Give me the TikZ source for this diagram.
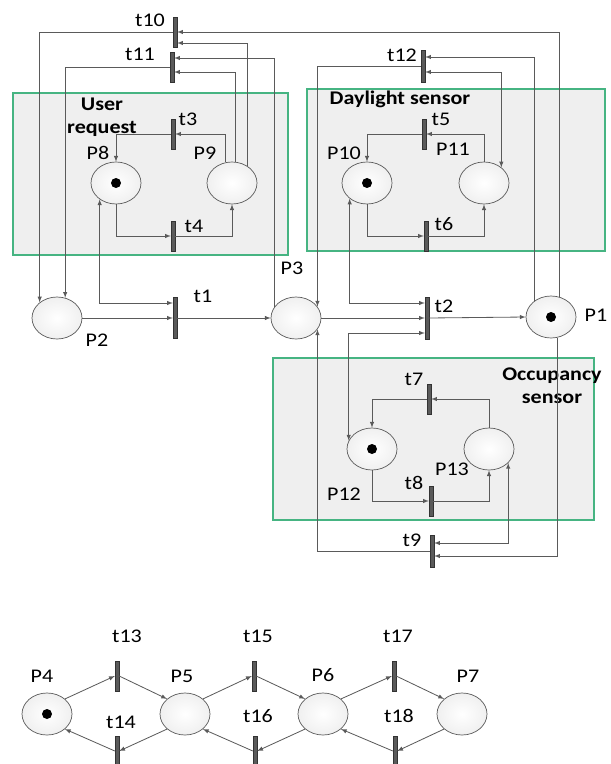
\documentclass[tikz,border=0pt]{standalone}
\usepackage{fontspec}
\newfontfamily\labelfont[FakeStretch=1.14]{Carlito}
\usetikzlibrary{arrows, calc, shapes.geometric}
\definecolor{boxgreen}{RGB}{70,180,130}
\definecolor{boxfill}{RGB}{239,239,239}
\definecolor{linegray}{RGB}{90,90,90}

\tikzset{
  place/.style={ellipse, draw=linegray, line width=0.6pt, shade, shading=radial, inner color=white, outer color=gray!12, minimum width=1.5cm, minimum height=1.26cm, inner sep=0pt},
  marked/.style={path picture={\fill[black] (path picture bounding box.center) circle[radius=0.15cm];}},
  trans/.style={rectangle, fill=linegray, draw=gray!40!black, line width=0.3pt, minimum width=0.12cm, minimum height=#1, inner sep=0pt},
  trans/.default=0.9cm,
  flow/.style={draw=linegray, line width=0.7pt, -latex},
  biflow/.style={flow, latex-latex},
  lbl/.style={font=\labelfont\fontsize{16.5}{19}\selectfont, inner sep=0pt},
  boxlbl/.style={font=\labelfont\bfseries\fontsize{16.5}{19.5}\selectfont, inner sep=0pt, align=center},
  sensorbox/.style={draw=boxgreen, line width=1pt},
}

\begin{document}
\begin{tikzpicture}[x=0.03cm, y=-0.03cm]
\useasboundingbox (0,0) rectangle (610,764);
\clip (0,0) rectangle (610,764);

%sensor boxes
\fill[boxfill] (13,93) rectangle (288,255);
\fill[boxfill] (307,89) rectangle (605,251);
\fill[boxfill] (273,358) rectangle (594,520);
\draw[sensorbox] (13,93) rectangle (288,255);
\draw[sensorbox] (307,89) rectangle (605,251);
\draw[sensorbox] (273,358) rectangle (594,520);
\node[boxlbl] (lUser) at (102,117) {User\\request};
\node[boxlbl] (lDay) at (400,99) {Daylight sensor};
\node[boxlbl] (lOcc) at (552,386) {Occupancy\\sensor};

%places
\node[place,marked] (P1) at (551,317) {};
\node[place] (P2) at (57,318) {};
\node[place] (P3) at (296,318) {};
\node[place,marked] (P8) at (116,183) {};
\node[place] (P9) at (232,183) {};
\node[place,marked] (P10) at (367,183) {};
\node[place] (P11) at (484,183) {};
\node[place,marked] (P12) at (372,449) {};
\node[place] (P13) at (489,449) {};
\node[place,marked] (P4) at (47,714) {};
\node[place] (P5) at (185,714) {};
\node[place] (P6) at (323,714) {};
\node[place] (P7) at (462,714) {};

%transitions
\node[trans] (t10) at (175,32) {};
\node[trans] (t11) at (172,67) {};
\node[trans=0.95cm] (t12) at (423,66) {};
\node[trans] (t3) at (173,134) {};
\node[trans] (t4) at (173,236) {};
\node[trans] (t5) at (424,134) {};
\node[trans] (t6) at (426,236) {};
\node[trans=1.23cm] (t1) at (175,318) {};
\node[trans=1.26cm] (t2) at (427,318) {};
\node[trans] (t7) at (429,399) {};
\node[trans] (t8) at (431,501) {};
\node[trans=0.96cm] (t9) at (432,551) {};
\node[trans] (t13) at (117,676) {};
\node[trans] (t14) at (117,751) {};
\node[trans] (t15) at (254,676) {};
\node[trans] (t16) at (255,751) {};
\node[trans] (t17) at (394,676) {};
\node[trans] (t18) at (395,751) {};

%labels
\node[lbl] (lt10) at (150,20) {t10};
\node[lbl] (lt11) at (140,54) {t11};
\node[lbl] (lt12) at (402,55) {t12};
\node[lbl] (lt3) at (188,119) {t3};
\node[lbl] (lt4) at (194,226) {t4};
\node[lbl] (lt5) at (441,119) {t5};
\node[lbl] (lt6) at (444,224) {t6};
\node[lbl] (lP8) at (98,153) {P8};
\node[lbl] (lP9) at (205,153) {P9};
\node[lbl] (lP10) at (344,153) {P10};
\node[lbl] (lP11) at (453,149) {P11};
\node[lbl] (lP2) at (97,340) {P2};
\node[lbl] (lt1) at (203,296) {t1};
\node[lbl] (lP3) at (292,268) {P3};
\node[lbl] (lt2) at (444,306) {t2};
\node[lbl] (lP1) at (596,315) {P1};
\node[lbl] (lt7) at (414,379) {t7};
\node[lbl] (lP12) at (344,494) {P12};
\node[lbl] (lP13) at (452,469) {P13};
\node[lbl] (lt8) at (414,483) {t8};
\node[lbl] (lt9) at (412,540) {t9};
\node[lbl] (lP4) at (42,676) {P4};
\node[lbl] (lP5) at (182,676) {P5};
\node[lbl] (lP6) at (323,675) {P6};
\node[lbl] (lP7) at (468,676) {P7};
\node[lbl] (lt13) at (127,636) {t13};
\node[lbl] (lt15) at (258,636) {t15};
\node[lbl] (lt17) at (398,636) {t17};
\node[lbl] (lt14) at (121,722) {t14};
\node[lbl] (lt16) at (258,716) {t16};
\node[lbl] (lt18) at (399,716) {t18};

%outer loops
\draw[flow] (P1.68) |- (t10.east);
\draw[flow] (P9.48) |- ($(t10.east)+(0,11)$);
\draw[flow] (t10.west) -| (P2.138);
\draw[flow] (P3.152) |- ($(t11.east)+(0,-9)$);
\draw[flow] (P9.82) |- ($(t11.east)+(0,5)$);
\draw[flow] (t11.west) -| (P2.68);
\draw[flow] (P1.135) |- ($(t12.east)+(0,-9)$);
\draw[biflow] (P11.42) |- ($(t12.east)+(0,6)$);
\draw[flow] (t12.west) -| (P3.28);
\draw[flow] (P1.287) |- ($(t9.east)+(0,5)$);
\draw[biflow] (P13.324) |- ($(t9.east)+(0,-8)$);
\draw[flow] (t9.west) -| (P3.332);

%user request
\draw[flow] (P9.109) |- (t3.east);
\draw[flow] (t3.west) -| (P8.north);
\draw[flow] (P8.south) |- (t4.west);
\draw[flow] (t4.east) -| (P9.south);

%daylight sensor
\draw[flow] (P11.north) |- (t5.east);
\draw[flow] (t5.west) -| (P10.north);
\draw[flow] (P10.south) |- (t6.west);
\draw[flow] (t6.east) -| (P11.south);

%occupancy sensor
\draw[flow] (P13.north) |- (t7.east);
\draw[flow] (t7.west) -| (P12.north);
\draw[flow] (P12.south) |- (t8.west);
\draw[flow] (t8.east) -| (P13.south);

%main line
\draw[flow] (P2.east) -- (t1.west);
\draw[biflow] (P8.225) |- ($(t1.west)+(0,-15)$);
\draw[flow] (t1.east) -- (P3.west);
\draw[flow] (P3.east) -- (t2.west);
\draw[biflow] (P10.222) |- ($(t2.west)+(0,-15)$);
\draw[biflow] (P12.160) |- ($(t2.west)+(0,15)$);
\draw[flow] (t2.east) -- (P1.west);

%lower chain
\draw[flow] (P4.40) -- (t13.west);
\draw[flow] (t13.east) -- (P5.140);
\draw[flow] (P5.40) -- (t15.west);
\draw[flow] (t15.east) -- (P6.140);
\draw[flow] (P6.40) -- (t17.west);
\draw[flow] (t17.east) -- (P7.140);
\draw[flow] (P5.220) -- (t14.east);
\draw[flow] (t14.west) -- (P4.320);
\draw[flow] (P6.220) -- (t16.east);
\draw[flow] (t16.west) -- (P5.320);
\draw[flow] (P7.220) -- (t18.east);
\draw[flow] (t18.west) -- (P6.320);
\end{tikzpicture}
\end{document}
